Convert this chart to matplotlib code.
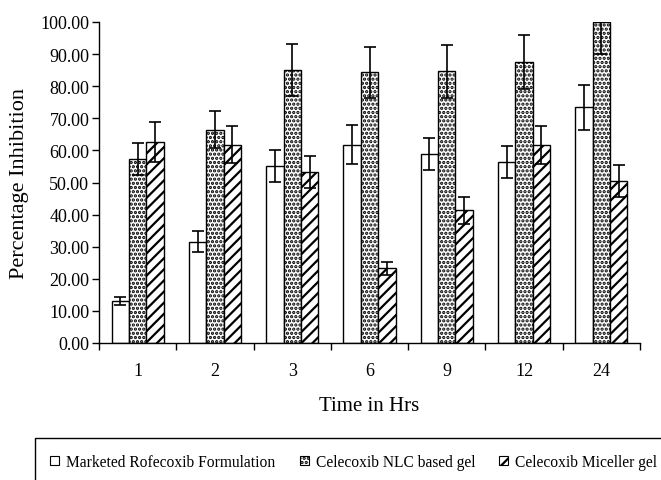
import matplotlib
matplotlib.use("Agg")
import matplotlib.pyplot as plt
import numpy as np
from matplotlib.patches import Rectangle, Patch

categories = ["1", "2", "3", "6", "9", "12", "24"]
marketed = [13.0, 31.6, 55.2, 61.8, 58.8, 56.3, 73.4]
marketed_err = [1.3, 3.2, 5.0, 6.0, 5.0, 5.0, 7.0]
nlc = [57.3, 66.4, 85.1, 84.3, 84.6, 87.5, 100.0]
nlc_err = [5.0, 5.8, 8.0, 8.0, 8.3, 8.3, 10.0]
micel = [62.7, 61.8, 53.2, 23.3, 41.4, 61.7, 50.5]
micel_err = [6.3, 5.8, 5.0, 2.0, 4.2, 5.8, 5.0]
series_names = ["Marketed Rofecoxib Formulation", "Celecoxib NLC based gel", "Celecoxib Miceller gel"]
yticks = [0, 10, 20, 30, 40, 50, 60, 70, 80, 90, 100]

plt.rcParams['font.family'] = ['Liberation Serif', 'DejaVu Serif']
plt.rcParams['hatch.linewidth'] = 1.6

W, H = 661, 481
fig = plt.figure(figsize=(W/100, H/100), dpi=100)
ax = fig.add_axes([99/W, 1-344/H, (640-99)/W, (344-23)/H])

x = np.arange(len(categories))
bw = 0.225
ekw = dict(ecolor='black', elinewidth=1.2, capsize=4, capthick=1.2)
ax.bar(x - bw, marketed, bw, color='white', edgecolor='black', linewidth=1.0,
       yerr=marketed_err, error_kw=ekw, zorder=2)
ax.bar(x, nlc, bw, color='white', edgecolor='black', linewidth=1.0, hatch='....',
       yerr=nlc_err, error_kw=ekw, zorder=2)
ax.bar(x + bw, micel, bw, color='white', edgecolor='black', linewidth=1.0, hatch='///',
       yerr=micel_err, error_kw=ekw, zorder=2)

ax.set_xlim(-0.5, len(categories) - 0.5)
ax.set_ylim(0, 100)
ax.set_yticks(yticks)
ax.set_yticklabels([f"{v:.2f}" for v in yticks], fontsize=13)
ax.set_xticks(np.arange(-0.5, len(categories), 1.0))
ax.set_xticklabels([])
ax.set_xticks(x, minor=True)
ax.set_xticklabels(categories, minor=True, fontsize=13)
ax.tick_params(axis='x', which='minor', length=0, pad=14)
ax.tick_params(axis='x', which='major', length=5, width=1.0, direction='out')
ax.tick_params(axis='y', length=5, width=1.0, direction='out', pad=2)
for s in ['top', 'right']:
    ax.spines[s].set_visible(False)
for s in ['left', 'bottom']:
    ax.spines[s].set_linewidth(1.0)

ax.set_ylabel("Percentage Inhibition", fontsize=16, labelpad=8)
ax.set_xlabel("Time in Hrs", fontsize=15, labelpad=12)

# legend frame
fig.patches.append(Rectangle((35/W, -0.05), 1.0, 1-439/H + 0.05, transform=fig.transFigure,
                             facecolor='none', edgecolor='black', linewidth=1.0))
handles = [Patch(facecolor='white', edgecolor='black', linewidth=0.8),
           Patch(facecolor='white', edgecolor='black', linewidth=0.8, hatch='....'),
           Patch(facecolor='white', edgecolor='black', linewidth=0.8, hatch='///')]
anchors_px = [50, 300, 499]
for h, name, ax_px in zip(handles, series_names, anchors_px):
    fig.legend([h], [name], loc='center left', bbox_to_anchor=(ax_px/W, 1-463/H),
               frameon=False, fontsize=11.2, handlelength=0.55, handleheight=0.55,
               handletextpad=0.45, borderaxespad=0, borderpad=0)

fig.savefig("out.png", dpi=100)
